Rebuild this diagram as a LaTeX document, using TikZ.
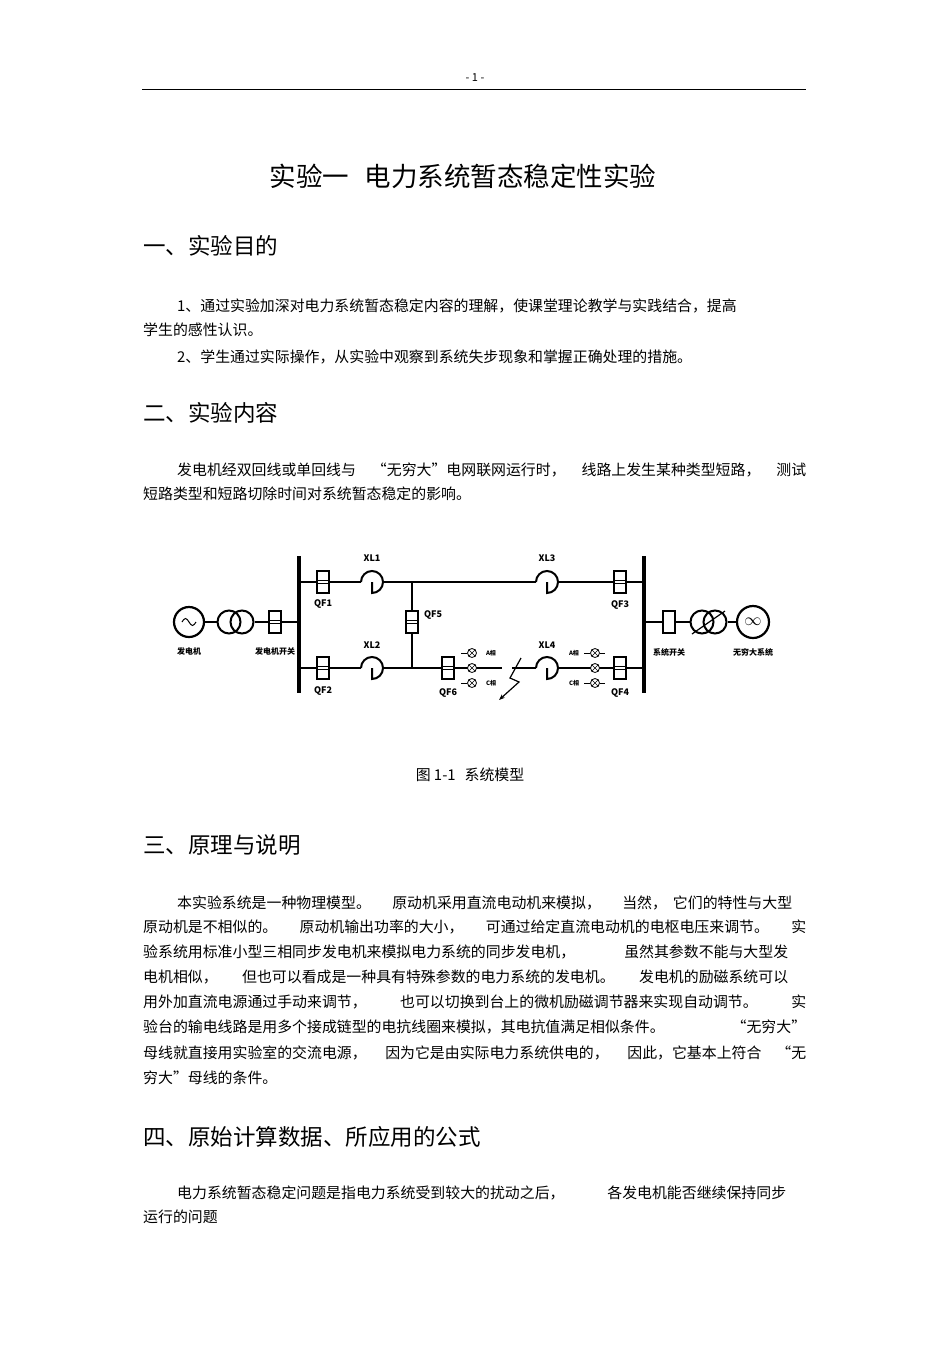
\documentclass[tikz,border=0pt]{standalone}
\usepackage{fontspec}
\setmainfont{Noto Sans CJK SC}
\usetikzlibrary{arrows.meta,calc}
\newcommand{\bt}{\fontsize{14.9}{16}\selectfont}
\newcommand{\hd}{\fontsize{22.5}{24}\selectfont}
\newcommand{\lb}{\fontsize{8}{9}\selectfont\bfseries}
\begin{document}
\begin{tikzpicture}[x=1pt,y=-1pt,
  ln/.style={line width=2.2pt},
  bus/.style={line width=4pt},
  brk/.style={draw,fill=white,line width=1.2pt,minimum width=12pt,minimum height=22pt,inner sep=0pt},
  lamp/.style={draw,circle,line width=0.8pt,minimum size=9pt,inner sep=0pt,fill=white},
  lbl/.style={font=\lb,inner sep=1pt},
  tl/.style={anchor=west,inner sep=0pt,font=\bt},
  hh/.style={anchor=west,inner sep=0pt,font=\hd}]
\useasboundingbox (0,0) rectangle (950,1345);
\node[font=\fontsize{11}{12}\selectfont] (pg) at (475,78) {- 1 -};
\coordinate (hl) at (142,89); \coordinate (hr) at (806,89);
\draw[line width=0.8pt] (hl) -- (hr);
\node[font=\fontsize{26.5}{28}\selectfont] (title) at (463,176) {实验一\hspace{0.6em}电力系统暂态稳定性实验};
\node[hh] (h1) at (143,246) {一、实验目的};
\node[tl] (p1) at (177,306) {1、通过实验加深对电力系统暂态稳定内容的理解，使课堂理论教学与实践结合，提高};
\node[tl] (p2) at (143,330) {学生的感性认识。};
\node[tl] (p3) at (177,357) {2、学生通过实际操作，从实验中观察到系统失步现象和掌握正确处理的措施。};
\node[hh] (h2) at (143,413) {二、实验内容};
\node[tl] (p4) at (177,470) {\makebox[629pt][s]{发电机经双回线或单回线与\hfill “无穷大”电网联网运行时，\hfill 线路上发生某种类型短路，\hfill 测试}};
\node[tl] (p5) at (143,494) {短路类型和短路切除时间对系统暂态稳定的影响。};
% diagram
\coordinate (lb1) at (299,556); \coordinate (lb2) at (299,693);
\coordinate (rb1) at (644,556); \coordinate (rb2) at (644,693);
\draw[bus] (lb1) -- (lb2); \draw[bus] (rb1) -- (rb2);
\node[draw,circle,line width=2.2pt,minimum size=30pt,inner sep=0pt] (gen) at (189,622) {};
\draw[line width=1pt] ($(gen)+(-7,0)$) sin ($(gen)+(-3.5,-3.5)$) cos (gen) sin ($(gen)+(3.5,3.5)$) cos ($(gen)+(7,0)$);
\node[draw,circle,line width=2pt,minimum size=23pt,inner sep=0pt] (t1a) at (229,622) {};
\node[draw,circle,line width=2pt,minimum size=23pt,inner sep=0pt] (t1b) at (242,622) {};
\node[brk] (gsw) at (275,622) {};
\draw[ln] (gen) -- (t1a); \draw[ln] (t1b) -- (gsw); \draw[ln] (gsw) -- (299,622);
\node[lbl] (lgen) at (189,651) {发电机};
\node[lbl] (lgsw) at (275,651) {发电机开关};
\node[brk] (qf1) at (323,582) {};
\node[brk] (qf3) at (620,582) {};
\node[brk] (qf2) at (323,668) {};
\node[brk] (qf4) at (620,668) {};
\node[brk] (qf5) at (412,622) {};
\node[brk] (qf6) at (448,668) {};
\coordinate (jt) at (412,582); \coordinate (jb) at (412,668);
\draw[ln] (299,582) -- (qf1) -- (361,582);
\draw[ln] (383,582) -- (536,582);
\draw[ln] (558,582) -- (qf3) -- (644,582);
\draw[ln] (299,668) -- (qf2) -- (361,668);
\draw[ln] (383,668) -- (qf6) -- (502,668);
\draw[ln] (512,668) -- (536,668);
\draw[ln] (558,668) -- (qf4) -- (644,668);
\draw[ln] (jt) -- (qf5) -- (jb);
\foreach \n/\x/\y in {xa/372/582,xb/372/668,xc/547/582,xd/547/668}{
  \coordinate (\n) at (\x,\y);
  \draw[line width=2pt] ($(\n)+(-11,0)$) arc[start angle=180,end angle=450,radius=11] -- ++(0,-11);
}
\foreach \b in {qf1,qf2,qf3,qf4,qf5,qf6,gsw}{
  \draw[line width=0.6pt] ($(\b.west)+(0,-1.5)$) -- ($(\b.east)+(0,-1.5)$);
  \draw[line width=0.6pt] ($(\b.west)+(0,1.5)$) -- ($(\b.east)+(0,1.5)$);
}
\tikzset{ql/.style={lbl,font=\fontsize{9}{10}\selectfont\bfseries}}
\node[ql] (lxl1) at (372,558) {XL1};
\node[ql] (lxl2) at (372,645) {XL2};
\node[ql] (lxl3) at (547,558) {XL3};
\node[ql] (lxl4) at (547,645) {XL4};
\node[ql] (lqf1) at (323,604) {QF1};
\node[ql] (lqf2) at (323,691) {QF2};
\node[ql] (lqf3) at (620,605) {QF3};
\node[ql] (lqf4) at (620,693) {QF4};
\node[ql] (lqf5) at (433,615) {QF5};
\node[ql] (lqf6) at (448,693) {QF6};
\foreach \n/\x/\y in {la1/472/653,la2/472/668,la3/472/683,lb1x/595/653,lb2x/595/668,lb3x/595/683}{
  \node[lamp] (\n) at (\x,\y) {};
  \draw[line width=0.6pt] (\n.north west) -- (\n.south east) (\n.north east) -- (\n.south west);
}
\foreach \n in {la1,la3,lb1x,lb3x}{\draw[line width=1pt] ($(\n.west)+(-6,0)$) -- (\n.west);}
\foreach \n in {lb1x,lb3x}{\draw[line width=1pt] (\n.east) -- ++(5,0);}
\tikzset{pl/.style={lbl,font=\fontsize{6}{7}\selectfont\bfseries}}
\node[pl] (lA1) at (491,653) {A相};
\node[pl] (lC1) at (491,683) {C相};
\node[pl] (lA2) at (574,653) {A相};
\node[pl] (lC2) at (574,683) {C相};
\coordinate (f0) at (521,658); \coordinate (f3) at (499,700);
\draw[line width=1.2pt,-{Stealth[length=6pt]}] (f0) -- (510,678) -- (519,682) -- (f3);
\node[brk] (ssw) at (669,622) {};
\node[draw,circle,line width=2pt,minimum size=23pt,inner sep=0pt] (t2a) at (702,622) {};
\node[draw,circle,line width=2pt,minimum size=23pt,inner sep=0pt] (t2b) at (715,622) {};
\draw[line width=1.2pt] (692,634) -- (725,611);
\node[draw,circle,line width=2.2pt,minimum size=32pt,inner sep=0pt,font=\fontsize{16}{16}\selectfont\bfseries] (sys) at (753,622) {$\infty$};
\draw[ln] (644,622) -- (ssw) -- (t2a); \draw[ln] (t2b) -- (sys);
\node[lbl] (lssw) at (669,652) {系统开关};
\node[lbl] (lsys) at (753,652) {无穷大系统};
\node[font=\bt] (cap) at (470,775) {图 1-1\hspace{0.6em}系统模型};
\node[hh] (h3) at (143,845) {三、原理与说明};
\node[tl] at (177,903) {\makebox[615pt][s]{本实验系统是一种物理模型。\hfill 原动机采用直流电动机来模拟，\hfill 当然，\hspace{0.4em}它们的特性与大型}};
\node[tl] at (143,927) {\makebox[663pt][s]{原动机是不相似的。\hfill 原动机输出功率的大小，\hfill 可通过给定直流电动机的电枢电压来调节。\hfill 实}};
\node[tl] at (143,952) {\makebox[645pt][s]{验系统用标准小型三相同步发电机来模拟电力系统的同步发电机，\hfill 虽然其参数不能与大型发}};
\node[tl] at (143,977) {\makebox[645pt][s]{电机相似，\hfill 但也可以看成是一种具有特殊参数的电力系统的发电机。\hfill 发电机的励磁系统可以}};
\node[tl] at (143,1002) {\makebox[663pt][s]{用外加直流电源通过手动来调节，\hfill 也可以切换到台上的微机励磁调节器来实现自动调节。\hfill 实}};
\node[tl] at (143,1027) {\makebox[663pt][s]{验台的输电线路是用多个接成链型的电抗线圈来模拟，其电抗值满足相似条件。\hfill “无穷大”}};
\node[tl] at (143,1053) {\makebox[663pt][s]{母线就直接用实验室的交流电源，\hfill 因为它是由实际电力系统供电的，\hfill 因此，它基本上符合\hspace{1em}“无}};
\node[tl] at (143,1078) {穷大”母线的条件。};
\node[hh] (h4) at (143,1137) {四、原始计算数据、所应用的公式};
\node[tl] at (177,1193) {\makebox[609pt][s]{电力系统暂态稳定问题是指电力系统受到较大的扰动之后，\hfill 各发电机能否继续保持同步}};
\node[tl] at (143,1217) {运行的问题};
\end{tikzpicture}
\end{document}
